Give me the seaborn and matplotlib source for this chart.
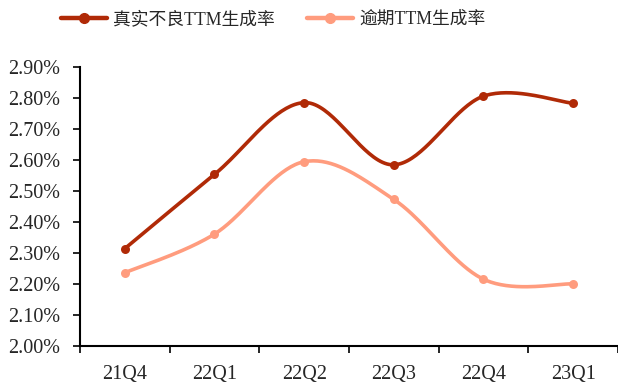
import numpy as np
import pandas as pd
import matplotlib
matplotlib.use("Agg")
import matplotlib.pyplot as plt
from matplotlib.lines import Line2D
from matplotlib.ticker import FuncFormatter, MultipleLocator
import seaborn as sns

# Quarterly data (percent)
quarters = ["21Q4", "22Q1", "22Q2", "22Q3", "22Q4", "23Q1"]
real_npl_ttm = [2.314, 2.554, 2.786, 2.585, 2.807, 2.784]
overdue_ttm = [2.236, 2.361, 2.595, 2.473, 2.215, 2.200]
series_names = ["真实不良TTM生成率", "逾期TTM生成率"]

colors = ["#B02A07", "#FF9C7E"]

sns.set_style("white")
plt.rcParams["font.family"] = ["Liberation Serif", "Noto Sans CJK SC"]


def catmull_rom(y, n=40):
    """Smooth curve through points (uniform Catmull-Rom, Excel-like smoothing)."""
    y = np.asarray(y, dtype=float)
    x = np.arange(len(y), dtype=float)
    px = np.concatenate([[x[0]], x, [x[-1]]])
    py = np.concatenate([[y[0]], y, [y[-1]]])
    xs, ys = [], []
    for i in range(1, len(px) - 2):
        p0x, p1x, p2x, p3x = px[i - 1], px[i], px[i + 1], px[i + 2]
        p0y, p1y, p2y, p3y = py[i - 1], py[i], py[i + 1], py[i + 2]
        # Bezier control points
        c1x, c1y = p1x + (p2x - p0x) / 6, p1y + (p2y - p0y) / 6
        c2x, c2y = p2x - (p3x - p1x) / 6, p2y - (p3y - p1y) / 6
        t = np.linspace(0, 1, n, endpoint=(i == len(px) - 3))
        b0, b1, b2, b3 = (1 - t) ** 3, 3 * (1 - t) ** 2 * t, 3 * (1 - t) * t ** 2, t ** 3
        xs.append(b0 * p1x + b1 * c1x + b2 * c2x + b3 * p2x)
        ys.append(b0 * p1y + b1 * c1y + b2 * c2y + b3 * p2y)
    return np.concatenate(xs), np.concatenate(ys)


fig = plt.figure(figsize=(6.18, 3.85), dpi=100)
ax = fig.add_axes([0.1294, 0.102, 0.8706, 0.723])

for name, vals, c in zip(series_names, [real_npl_ttm, overdue_ttm], colors):
    sx, sy = catmull_rom(vals)
    smooth = pd.DataFrame({"x": sx, "y": sy})
    sns.lineplot(data=smooth, x="x", y="y", color=c, lw=2.6, ax=ax,
                 sort=False, estimator=None)
    pts = pd.DataFrame({"x": np.arange(len(vals)), "y": vals})
    sns.scatterplot(data=pts, x="x", y="y", color=c, s=42, edgecolor=c,
                    linewidth=0, ax=ax, zorder=3)

ax.set_xlim(-0.5, len(quarters) - 0.5)
ax.set_ylim(2.0, 2.9)
ax.yaxis.set_major_locator(MultipleLocator(0.1))
ax.yaxis.set_major_formatter(FuncFormatter(lambda v, p: f"{v:.2f}%"))

ax.set_xticks(np.arange(len(quarters)))
ax.set_xticklabels(quarters)
ax.set_xticks(np.arange(len(quarters) + 1) - 0.5, minor=True)
ax.tick_params(axis="x", which="major", length=0, pad=14, labelsize=14.5)
ax.tick_params(axis="x", which="minor", length=5, width=1.2, direction="out",
               color="black", bottom=True)
ax.tick_params(axis="y", length=5, width=1.2, direction="out", color="black",
               left=True, pad=9, labelsize=14.5)
ax.set_xlabel("")
ax.set_ylabel("")

for side in ["top", "right"]:
    ax.spines[side].set_visible(False)
for side in ["left", "bottom"]:
    ax.spines[side].set_color("black")
    ax.spines[side].set_linewidth(1.5)

handles = [Line2D([0], [0], color=c, lw=3.2, marker="o", markersize=7)
           for c in colors]
fig.legend(handles, series_names, loc="center", bbox_to_anchor=(0.442, 0.95),
           ncol=2, frameon=False, fontsize=12.8, handlelength=2.6,
           columnspacing=1.8, handletextpad=0.35)

fig.savefig("out.png", dpi=100)
